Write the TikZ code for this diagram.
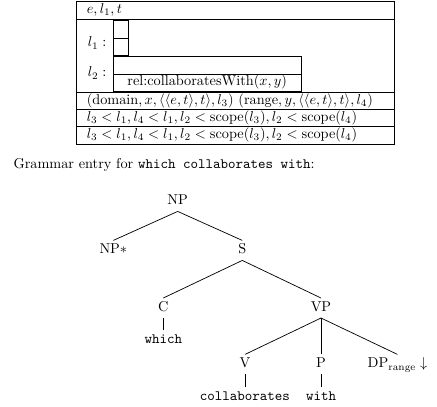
\documentclass[tikz,border=0pt]{standalone}
\usepackage{amsmath}
\begin{document}
\begin{tikzpicture}[x=0.7pt,y=-0.7pt,
  tbl/.style={line width=0.5pt},
  cell/.style={line width=0.6pt},
  rowtext/.style={anchor=base west,inner sep=0pt},
  tn/.style={inner sep=0pt,text height=7pt,text depth=2pt,outer sep=2.5pt,anchor=base},
  edge/.style={line width=0.5pt}]
\useasboundingbox (0,0) rectangle (437,407);
% table rows
\draw[tbl] (76.7,1.7) rectangle (394.5,19);
\draw[tbl] (76.7,19) rectangle (394.5,92.3);
\draw[tbl] (76.7,92.3) rectangle (394.5,109.5);
\draw[tbl] (76.7,109.5) rectangle (394.5,126.8);
\draw[tbl] (76.7,126.8) rectangle (394.5,144);
% inner boxes
\draw[cell] (113.3,20) rectangle (128.3,38);
\draw[cell] (113.3,38) rectangle (128.3,55.7);
\draw[cell] (113.3,56.5) rectangle (301,74.3);
\draw[cell] (113.3,74.3) rectangle (301,91);
% row texts
\node[rowtext] (r1) at (86.5,13.5) {$e, l_1, t$};
\node[rowtext] (l1) at (87.5,47) {$l_1:$};
\node[rowtext] (l2) at (87.5,77) {$l_2:$};
\node[inner sep=0pt,anchor=base] (rel) at (207.2,86) {rel:collaboratesWith$(x,y)$};
\node[rowtext] (r3) at (86.5,104.5) {(domain$, x, \langle\langle e, t\rangle, t\rangle, l_3)$ (range$, y, \langle\langle e, t\rangle, t\rangle, l_4)$};
\node[rowtext] (r4) at (86.5,121.5) {$l_3 < l_1, l_4 < l_1, l_2 < \text{scope}(l_3), l_2 < \text{scope}(l_4)$};
\node[rowtext] (r5) at (86.5,138.8) {$l_3 < l_1, l_4 < l_1, l_2 < \text{scope}(l_3), l_2 < \text{scope}(l_4)$};
% caption
\node[anchor=base west,inner sep=0pt] (cap) at (13.3,168.5) {Grammar entry for \texttt{which collaborates with}:};
% tree
\node[tn] (np) at (177.7,205) {NP};
\node[tn] (nps) at (113.3,254) {NP$*$};
\node[tn] (s) at (242.3,254) {S};
\node[tn] (c) at (163.3,311.6) {C};
\node[tn] (vp) at (321,311.6) {VP};
\node[tn] (which) at (163.3,343.7) {\texttt{which}};
\node[tn] (v) at (245,368) {V};
\node[tn] (p) at (321,368) {P};
\node[tn] (dp) at (397.5,368) {DP$_{\text{range}}\downarrow$};
\node[tn] (coll) at (245,400.4) {\texttt{collaborates}};
\node[tn] (with) at (321,400.4) {\texttt{with}};
\draw[edge] (np.south) -- (nps.north);
\draw[edge] (np.south) -- (s.north);
\draw[edge] (s.south) -- (c.north);
\draw[edge] (s.south) -- (vp.north);
\draw[edge] (c.south) -- (which.north);
\draw[edge] (vp.south) -- (v.north);
\draw[edge] (vp.south) -- (p.north);
\draw[edge] (vp.south) -- (dp.north);
\draw[edge] (v.south) -- (coll.north);
\draw[edge] (p.south) -- (with.north);
\end{tikzpicture}
\end{document}
